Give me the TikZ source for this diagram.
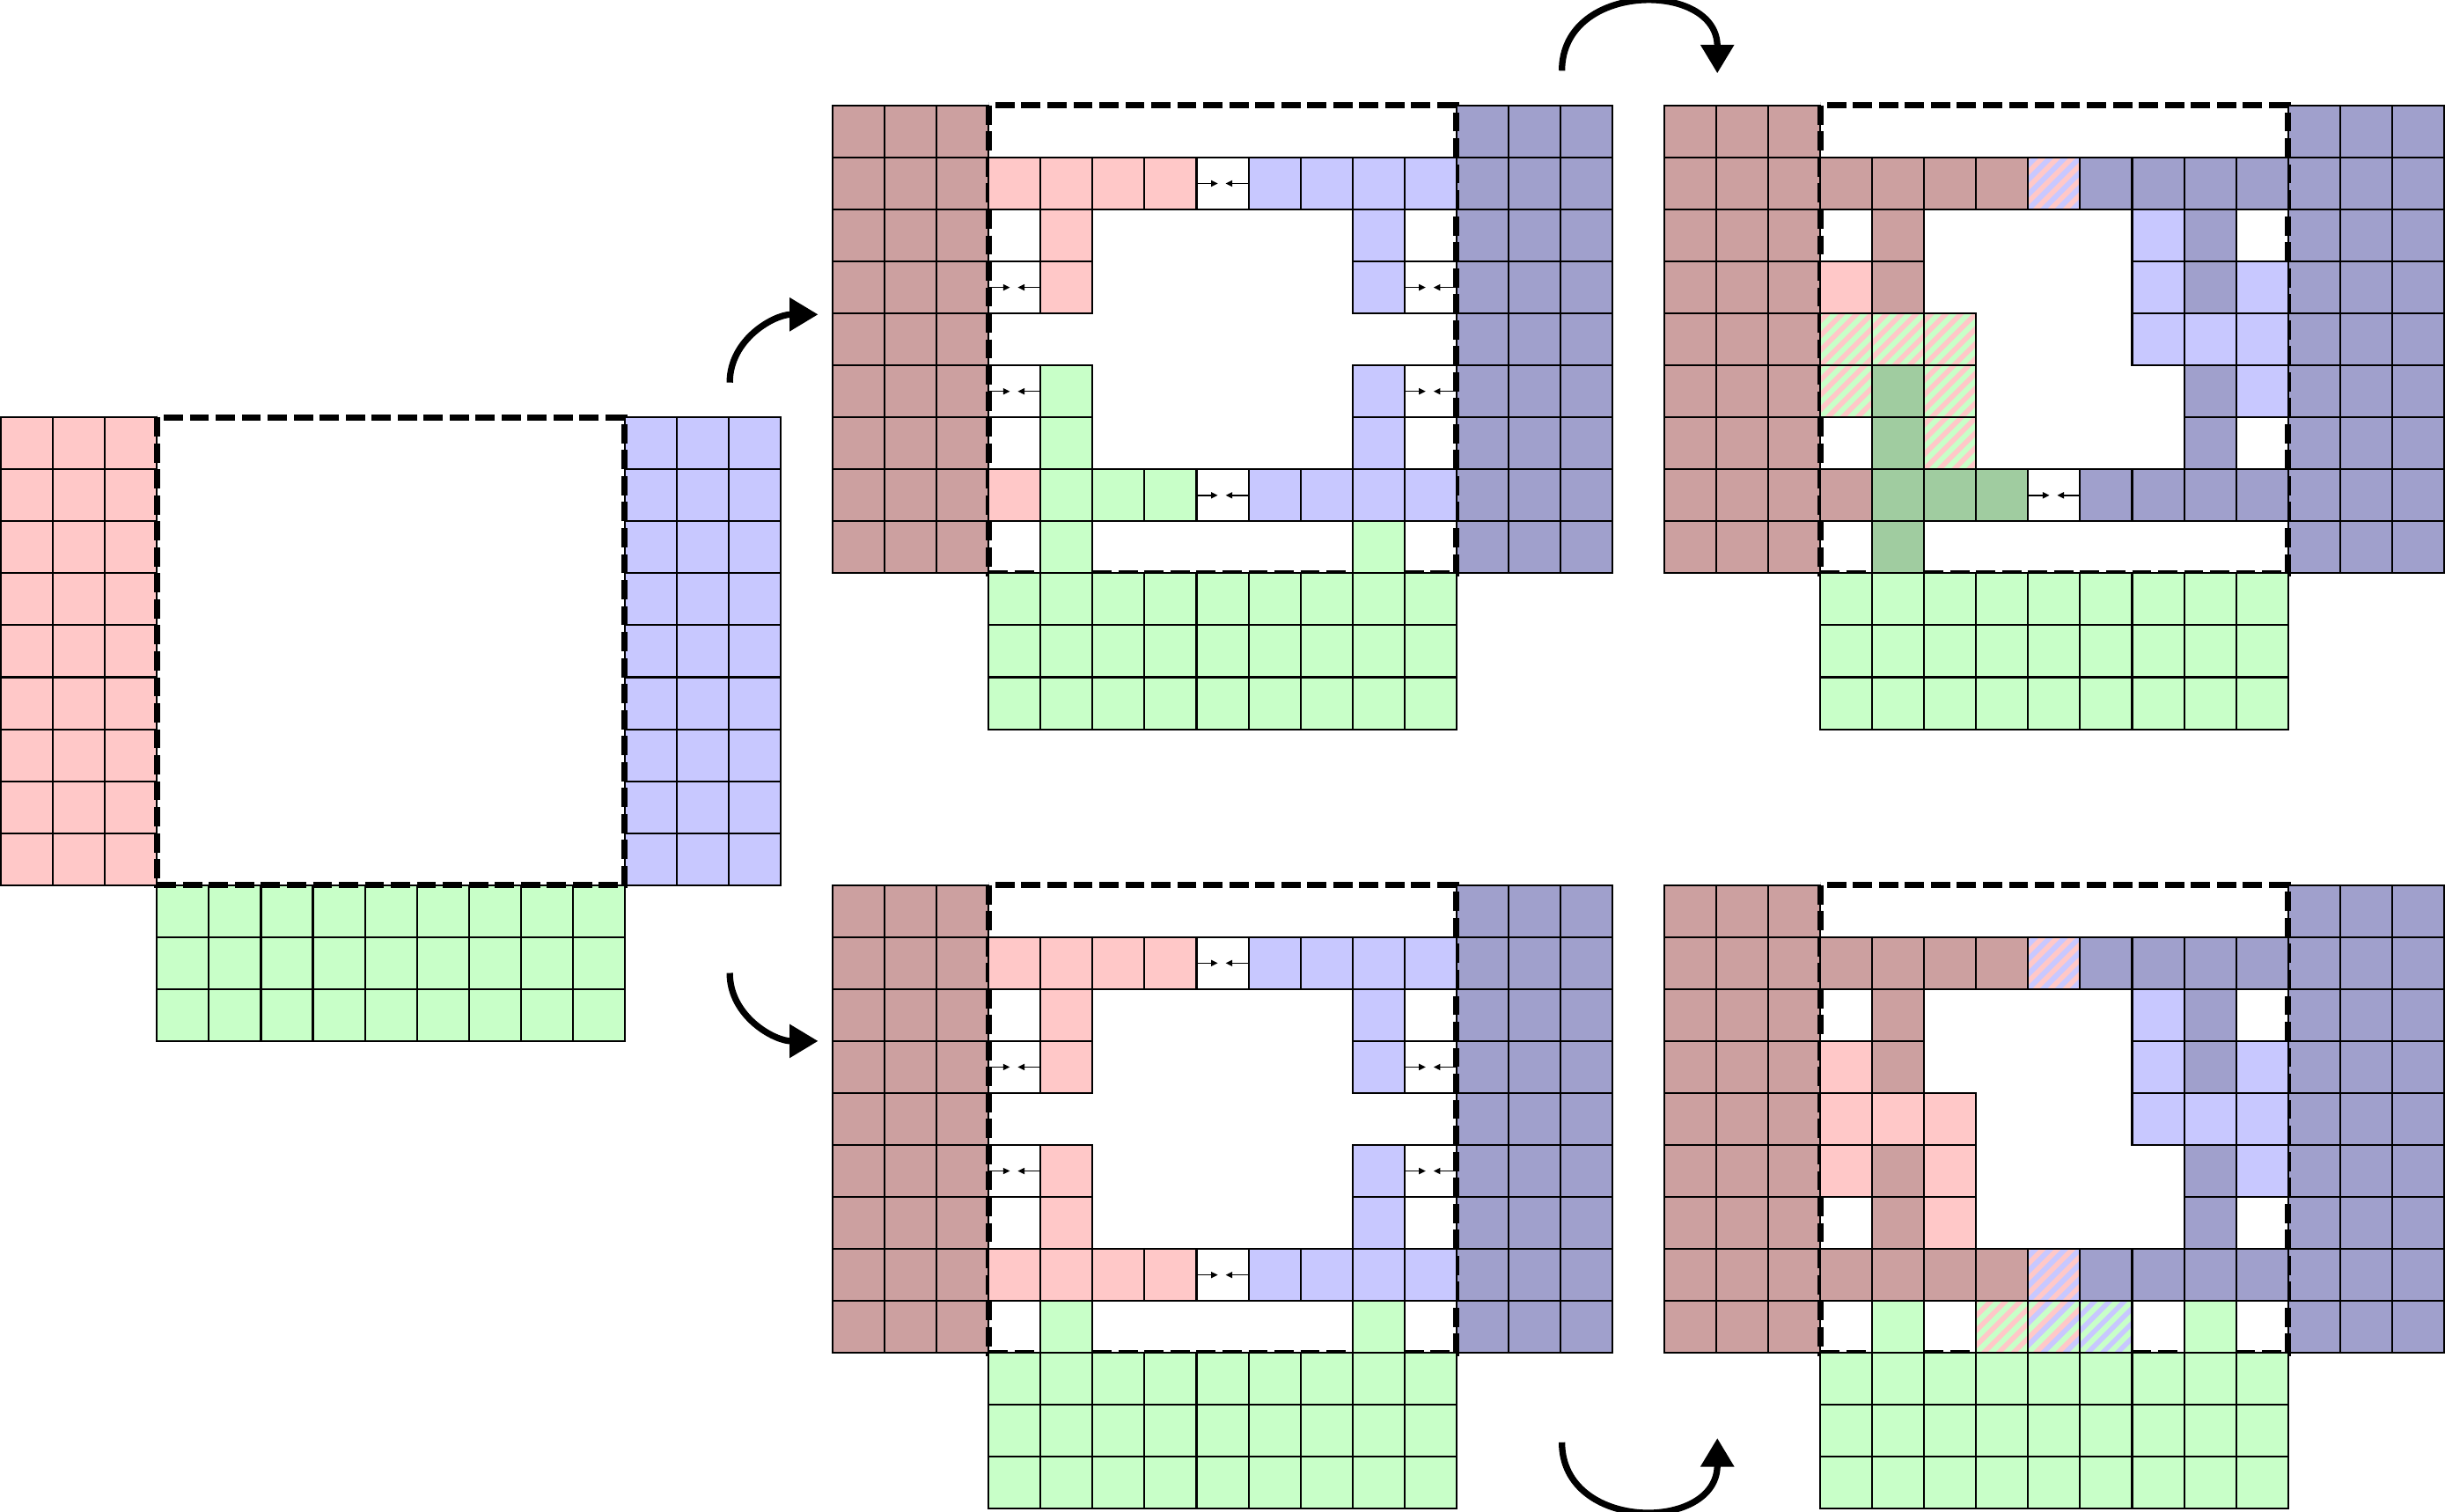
\documentclass[tikz,border=0pt]{standalone}
\usetikzlibrary{arrows.meta}
\definecolor{lpink}{RGB}{255,200,200}
\definecolor{lblue}{RGB}{200,200,255}
\definecolor{lgreen}{RGB}{200,255,200}
\definecolor{dpink}{RGB}{204,160,160}
\definecolor{dblue}{RGB}{160,160,204}
\definecolor{dgreen}{RGB}{160,204,160}
\tikzset{
  cellline/.style={draw=black, line width=1pt},
  dashbox/.style={draw=black, line width=3.3pt, dash pattern=on 0.37cm off 0.13cm},
  tinyarrow/.style={line width=0.75pt, -{Triangle[length=0.13cm,width=0.12cm]}},
  bigarrow/.style={line width=3.5pt, -{Triangle[width=0.62cm,length=0.55cm]}},
  hatchline/.style={line width=0.101cm}
}
% filled cell
\newcommand{\gcell}[3]{\filldraw[fill=#1,cellline] (#2,-#3) rectangle ++(1,-1);}
% empty bordered cell
\newcommand{\ecell}[2]{\draw[cellline] (#1,-#2) rectangle ++(1,-1);}
% cell with two facing arrows
\newcommand{\acell}[2]{\draw[cellline] (#1,-#2) rectangle ++(1,-1);
  \draw[tinyarrow] (#1,{-#2-0.5}) -- ++(0.41,0);
  \draw[tinyarrow] ({#1+1},{-#2-0.5}) -- ++(-0.44,0);}
% two-colour hatched cell (stripes aligned across cells)
\newcommand{\hcell}[4]{%
  \begin{scope}
    \clip (#3,-#4) rectangle ++(1,-1);
    \fill[#1] (#3,-#4) rectangle ++(1,-1);
    \pgfmathtruncatemacro{\kz}{floor((#3+#4)*3.5)}
    \foreach \k in {-1,...,8}{\draw[#2,hatchline] ({(\kz+\k)/3.5-#4-1.2},{-#4-1.2}) -- ++(1.4,1.4);}
  \end{scope}
  \draw[cellline] (#3,-#4) rectangle ++(1,-1);}
% three-colour hatched cell
\newcommand{\tcell}[5]{%
  \begin{scope}
    \clip (#4,-#5) rectangle ++(1,-1);
    \fill[#1] (#4,-#5) rectangle ++(1,-1);
    \pgfmathtruncatemacro{\kz}{floor((#4+#5)*7/3)}
    \foreach \k in {-1,...,6}{
      \draw[#2,hatchline] ({(\kz+\k)*3/7-#5-1.2},{-#5-1.2}) -- ++(1.4,1.4);
      \draw[#3,hatchline] ({(\kz+\k)*3/7+1/7-#5-1.2},{-#5-1.2}) -- ++(1.4,1.4);}
  \end{scope}
  \draw[cellline] (#4,-#5) rectangle ++(1,-1);}
% block of cells: colour, x, top y, width, height
\newcommand{\sideblock}[5]{\filldraw[fill=#1,cellline] (#2,#3) rectangle ++(#4,-#5);
  \draw[cellline] (#2,{#3-#5}) grid ++(#4,#5);}
\newcommand{\panelsides}[2]{\sideblock{#1}{-3}{0}{3}{9}\sideblock{#2}{9}{0}{3}{9}
  \draw[dashbox] (0,0) rectangle (9,-9);}
\newcommand{\panelbottom}{\sideblock{lgreen}{0}{-9}{9}{3}}

\begin{document}
\begin{tikzpicture}
\useasboundingbox (-0.02,0.03) rectangle (47.02,-29.06);

% ---------- panel 0 ----------
\begin{scope}[shift={(3,-8)}]
  \sideblock{lpink}{-3}{0}{3}{9}
  \sideblock{lblue}{9}{0}{3}{9}
  \panelbottom
  \draw[dashbox] (0,0) rectangle (9,-9);
\end{scope}

% ---------- panel 1 (top middle) ----------
\begin{scope}[shift={(19,-2)}]
  \panelsides{dpink}{dblue}
  \foreach \c in {0,...,3}{\gcell{lpink}{\c}{1}}
  \acell{4}{1}
  \foreach \c in {5,...,8}{\gcell{lblue}{\c}{1}}
  \ecell{0}{2}\gcell{lpink}{1}{2}\gcell{lblue}{7}{2}\ecell{8}{2}
  \acell{0}{3}\gcell{lpink}{1}{3}\gcell{lblue}{7}{3}\acell{8}{3}
  \acell{0}{5}\gcell{lgreen}{1}{5}\gcell{lblue}{7}{5}\acell{8}{5}
  \ecell{0}{6}\gcell{lgreen}{1}{6}\gcell{lblue}{7}{6}\ecell{8}{6}
  \gcell{lpink}{0}{7}
  \foreach \c in {1,...,3}{\gcell{lgreen}{\c}{7}}
  \acell{4}{7}
  \foreach \c in {5,...,8}{\gcell{lblue}{\c}{7}}
  \ecell{0}{8}\gcell{lgreen}{1}{8}\gcell{lgreen}{7}{8}\ecell{8}{8}
  \panelbottom
\end{scope}

% ---------- panel 2 (top right) ----------
\begin{scope}[shift={(35,-2)}]
  \panelsides{dpink}{dblue}
  \foreach \c in {0,...,3}{\gcell{dpink}{\c}{1}}
  \hcell{lpink}{lblue}{4}{1}
  \foreach \c in {5,...,8}{\gcell{dblue}{\c}{1}}
  \ecell{0}{2}\gcell{dpink}{1}{2}\gcell{lblue}{6}{2}\gcell{dblue}{7}{2}\ecell{8}{2}
  \gcell{lpink}{0}{3}\gcell{dpink}{1}{3}\gcell{lblue}{6}{3}\gcell{dblue}{7}{3}\gcell{lblue}{8}{3}
  \foreach \c in {0,...,2}{\hcell{lpink}{lgreen}{\c}{4}}
  \foreach \c in {6,...,8}{\gcell{lblue}{\c}{4}}
  \hcell{lpink}{lgreen}{0}{5}\gcell{dgreen}{1}{5}\hcell{lpink}{lgreen}{2}{5}\gcell{dblue}{7}{5}\gcell{lblue}{8}{5}
  \ecell{0}{6}\gcell{dgreen}{1}{6}\hcell{lpink}{lgreen}{2}{6}\gcell{dblue}{7}{6}\ecell{8}{6}
  \gcell{dpink}{0}{7}
  \foreach \c in {1,...,3}{\gcell{dgreen}{\c}{7}}
  \acell{4}{7}
  \foreach \c in {5,...,8}{\gcell{dblue}{\c}{7}}
  \ecell{0}{8}\gcell{dgreen}{1}{8}
  \panelbottom
\end{scope}

% ---------- panel 3 (bottom middle) ----------
\begin{scope}[shift={(19,-17)}]
  \panelsides{dpink}{dblue}
  \foreach \c in {0,...,3}{\gcell{lpink}{\c}{1}}
  \acell{4}{1}
  \foreach \c in {5,...,8}{\gcell{lblue}{\c}{1}}
  \ecell{0}{2}\gcell{lpink}{1}{2}\gcell{lblue}{7}{2}\ecell{8}{2}
  \acell{0}{3}\gcell{lpink}{1}{3}\gcell{lblue}{7}{3}\acell{8}{3}
  \acell{0}{5}\gcell{lpink}{1}{5}\gcell{lblue}{7}{5}\acell{8}{5}
  \ecell{0}{6}\gcell{lpink}{1}{6}\gcell{lblue}{7}{6}\ecell{8}{6}
  \foreach \c in {0,...,3}{\gcell{lpink}{\c}{7}}
  \acell{4}{7}
  \foreach \c in {5,...,8}{\gcell{lblue}{\c}{7}}
  \ecell{0}{8}\gcell{lgreen}{1}{8}\gcell{lgreen}{7}{8}\ecell{8}{8}
  \panelbottom
\end{scope}

% ---------- panel 4 (bottom right) ----------
\begin{scope}[shift={(35,-17)}]
  \panelsides{dpink}{dblue}
  \foreach \c in {0,...,3}{\gcell{dpink}{\c}{1}}
  \hcell{lpink}{lblue}{4}{1}
  \foreach \c in {5,...,8}{\gcell{dblue}{\c}{1}}
  \ecell{0}{2}\gcell{dpink}{1}{2}\gcell{lblue}{6}{2}\gcell{dblue}{7}{2}\ecell{8}{2}
  \gcell{lpink}{0}{3}\gcell{dpink}{1}{3}\gcell{lblue}{6}{3}\gcell{dblue}{7}{3}\gcell{lblue}{8}{3}
  \foreach \c in {0,...,2}{\gcell{lpink}{\c}{4}}
  \foreach \c in {6,...,8}{\gcell{lblue}{\c}{4}}
  \gcell{lpink}{0}{5}\gcell{dpink}{1}{5}\gcell{lpink}{2}{5}\gcell{dblue}{7}{5}\gcell{lblue}{8}{5}
  \ecell{0}{6}\gcell{dpink}{1}{6}\gcell{lpink}{2}{6}\gcell{dblue}{7}{6}\ecell{8}{6}
  \foreach \c in {0,...,3}{\gcell{dpink}{\c}{7}}
  \hcell{lpink}{lblue}{4}{7}
  \foreach \c in {5,...,8}{\gcell{dblue}{\c}{7}}
  \ecell{0}{8}\gcell{lgreen}{1}{8}\ecell{2}{8}
  \hcell{lpink}{lgreen}{3}{8}
  \tcell{lpink}{lblue}{lgreen}{4}{8}
  \hcell{lblue}{lgreen}{5}{8}
  \ecell{6}{8}\gcell{lgreen}{7}{8}\ecell{8}{8}
  \panelbottom
\end{scope}

% ---------- curved arrows ----------
\coordinate (a1s) at (14.02,-7.33);  \coordinate (a1e) at (15.72,-6.02);
\coordinate (a2s) at (14.02,-18.69); \coordinate (a2e) at (15.72,-20.0);
\coordinate (a3s) at (30.03,-1.33);  \coordinate (a3e) at (33.02,-1.38);
\coordinate (a4s) at (30.03,-27.72); \coordinate (a4e) at (33.02,-27.64);
\draw[bigarrow] (a1s) to[out=90,in=180] (a1e);
\draw[bigarrow] (a2s) to[out=-90,in=180] (a2e);
\draw[bigarrow] (a3s) .. controls (30.03,0.40) and (33.02,0.40) .. (a3e);
\draw[bigarrow] (a4s) .. controls (30.03,-29.45) and (33.02,-29.45) .. (a4e);
\end{tikzpicture}
\end{document}
